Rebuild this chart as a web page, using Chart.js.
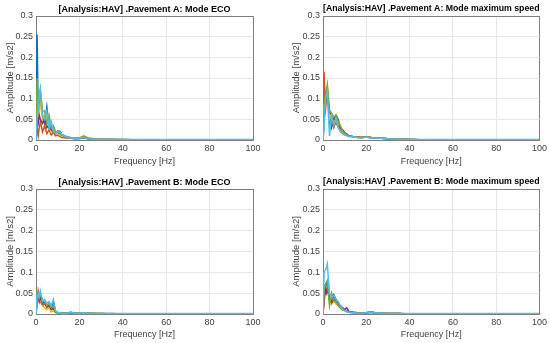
<!DOCTYPE html>
<html>
<head>
<meta charset="utf-8">
<script src="https://cdn.jsdelivr.net/npm/chart.js@4.4.0/dist/chart.umd.min.js"></script>
<style>
  body { margin: 0; background: #fff; }
  #wrap { position: relative; width: 550px; height: 343px; }
  #wrap canvas { position: absolute; }
</style>
</head>
<body>
<div id="wrap">
  <canvas id="c1" width="275" height="172" style="left:0;top:0"></canvas>
  <canvas id="c2" width="275" height="172" style="left:275px;top:0"></canvas>
  <canvas id="c3" width="275" height="171" style="left:0;top:172px"></canvas>
  <canvas id="c4" width="275" height="171" style="left:275px;top:172px"></canvas>
</div>
<script>
// frequency axis shared by every trace (Hz)
var freqHz = [0, 0.5, 1, 1.5, 2, 3, 4, 5, 6, 7, 8, 9, 10, 11, 12, 14, 16, 18, 20, 22, 24, 27, 30, 35, 40, 50, 100];

var yTicks = [0, 0.05, 0.1, 0.15, 0.2, 0.25, 0.3];
var xTicks = [0, 20, 40, 60, 80, 100];

// MATLAB default line colours
var lineColors = ["#0072BD", "#D95319", "#EDB120", "#7E2F8E", "#77AC30", "#4DBEEE"];

// Pavement A, mode ECO
var ampAEco = [
	[0.01, 0.255, 0.06, 0.09, 0.11, 0.06, 0.04, 0.08, 0.03, 0.04, 0.02, 0.015, 0.02, 0.02, 0.012, 0.008, 0.005, 0.003, 0.004, 0.006, 0.004, 0.002, 0.002, 0.001, 0.001, 0, 0],
	[0, 0.03, 0.01, 0.03, 0.045, 0.02, 0.035, 0.015, 0.025, 0.012, 0.018, 0.01, 0.012, 0.008, 0.006, 0.005, 0.004, 0.003, 0.003, 0.005, 0.003, 0.002, 0.001, 0.001, 0, 0, 0],
	[0, 0.1, 0.05, 0.08, 0.09, 0.05, 0.06, 0.03, 0.045, 0.02, 0.03, 0.015, 0.018, 0.012, 0.01, 0.007, 0.005, 0.004, 0.004, 0.008, 0.004, 0.002, 0.002, 0.001, 0.001, 0, 0],
	[0, 0.05, 0.04, 0.06, 0.05, 0.04, 0.05, 0.03, 0.035, 0.025, 0.02, 0.015, 0.022, 0.02, 0.012, 0.008, 0.005, 0.004, 0.004, 0.006, 0.003, 0.002, 0.001, 0.001, 0, 0, 0],
	[0, 0.15, 0.07, 0.1, 0.12, 0.07, 0.07, 0.04, 0.06, 0.03, 0.035, 0.02, 0.02, 0.015, 0.012, 0.008, 0.006, 0.005, 0.005, 0.01, 0.005, 0.003, 0.002, 0.001, 0.001, 0, 0],
	[0, 0.05, 0.08, 0.11, 0.125, 0.06, 0.05, 0.07, 0.03, 0.045, 0.02, 0.015, 0.02, 0.022, 0.012, 0.008, 0.005, 0.004, 0.004, 0.006, 0.003, 0.002, 0.002, 0.001, 0.001, 0.001, 0.001]
];

// Pavement A, mode maximum speed
var ampAMax = [
	[0, 0.05, 0.1, 0.12, 0.11, 0.06, 0.03, 0.05, 0.04, 0.035, 0.025, 0.02, 0.015, 0.012, 0.01, 0.008, 0.006, 0.006, 0.007, 0.006, 0.005, 0.004, 0.003, 0.002, 0.001, 0, 0],
	[0, 0.165, 0.06, 0.1, 0.12, 0.04, 0.05, 0.03, 0.045, 0.03, 0.025, 0.018, 0.014, 0.012, 0.01, 0.008, 0.007, 0.006, 0.008, 0.006, 0.005, 0.004, 0.003, 0.002, 0.001, 0, 0],
	[0, 0.08, 0.1, 0.11, 0.13, 0.05, 0.06, 0.045, 0.05, 0.04, 0.03, 0.02, 0.015, 0.013, 0.01, 0.008, 0.006, 0.006, 0.007, 0.006, 0.005, 0.004, 0.003, 0.002, 0.001, 0, 0],
	[0, 0.06, 0.08, 0.1, 0.12, 0.07, 0.06, 0.05, 0.06, 0.05, 0.03, 0.025, 0.018, 0.014, 0.01, 0.008, 0.007, 0.006, 0.008, 0.006, 0.005, 0.004, 0.003, 0.002, 0.001, 0, 0],
	[0, 0.07, 0.1, 0.12, 0.135, 0.07, 0.065, 0.055, 0.06, 0.045, 0.035, 0.022, 0.016, 0.013, 0.01, 0.008, 0.007, 0.006, 0.008, 0.006, 0.005, 0.004, 0.003, 0.002, 0.001, 0, 0],
	[0, 0.03, 0.08, 0.11, 0.12, 0.01, 0.06, 0.035, 0.05, 0.03, 0.02, 0.015, 0.012, 0.01, 0.008, 0.008, 0.006, 0.005, 0.007, 0.005, 0.005, 0.004, 0.003, 0.002, 0.001, 0.001, 0.001]
];

// Pavement B, mode ECO
var ampBEco = [
	[0, 0.04, 0.05, 0.045, 0.05, 0.03, 0.03, 0.02, 0.025, 0.015, 0.03, 0.005, 0.003, 0.002, 0.002, 0.002, 0.004, 0.002, 0.002, 0.002, 0.002, 0.001, 0.001, 0.001, 0, 0, 0],
	[0, 0.03, 0.055, 0.04, 0.03, 0.02, 0.025, 0.015, 0.02, 0.01, 0.012, 0.004, 0.003, 0.002, 0.002, 0.002, 0.003, 0.002, 0.001, 0.002, 0.001, 0.001, 0.001, 0, 0, 0, 0],
	[0, 0.02, 0.04, 0.03, 0.035, 0.02, 0.015, 0.01, 0.015, 0.005, 0.008, 0.003, 0.002, 0.002, 0.001, 0.001, 0.002, 0.001, 0.001, 0.001, 0.001, 0.001, 0, 0, 0, 0, 0],
	[0, 0.035, 0.045, 0.03, 0.04, 0.025, 0.03, 0.02, 0.02, 0.012, 0.015, 0.005, 0.003, 0.002, 0.002, 0.002, 0.003, 0.002, 0.001, 0.002, 0.001, 0.001, 0, 0, 0, 0, 0],
	[0, 0.05, 0.04, 0.045, 0.05, 0.03, 0.03, 0.02, 0.025, 0.015, 0.02, 0.005, 0.003, 0.002, 0.002, 0.002, 0.003, 0.002, 0.001, 0.002, 0.001, 0.001, 0.001, 0, 0, 0, 0],
	[0, 0.045, 0.05, 0.04, 0.055, 0.03, 0.035, 0.025, 0.03, 0.02, 0.035, 0.008, 0.004, 0.003, 0.002, 0.002, 0.005, 0.002, 0.002, 0.003, 0.002, 0.001, 0.001, 0.001, 0.001, 0.001, 0.001]
];

// Pavement B, mode maximum speed
var ampBMax = [
	[0, 0.04, 0.06, 0.07, 0.075, 0.04, 0.03, 0.045, 0.03, 0.025, 0.02, 0.015, 0.01, 0.008, 0.006, 0.004, 0.003, 0.002, 0.003, 0.004, 0.003, 0.002, 0.001, 0.001, 0, 0, 0],
	[0, 0.03, 0.05, 0.06, 0.065, 0.04, 0.025, 0.035, 0.025, 0.02, 0.015, 0.01, 0.008, 0.006, 0.004, 0.003, 0.002, 0.002, 0.003, 0.004, 0.003, 0.002, 0.001, 0.001, 0, 0, 0],
	[0, 0.05, 0.07, 0.075, 0.08, 0.03, 0.04, 0.03, 0.025, 0.02, 0.015, 0.01, 0.008, 0.006, 0.004, 0.003, 0.002, 0.002, 0.003, 0.004, 0.003, 0.002, 0.001, 0.001, 0, 0, 0],
	[0, 0.04, 0.06, 0.05, 0.06, 0.035, 0.03, 0.045, 0.035, 0.025, 0.02, 0.015, 0.01, 0.015, 0.006, 0.004, 0.003, 0.002, 0.003, 0.005, 0.003, 0.002, 0.001, 0.001, 0, 0, 0],
	[0, 0.06, 0.07, 0.075, 0.08, 0.02, 0.05, 0.03, 0.03, 0.02, 0.015, 0.01, 0.008, 0.006, 0.004, 0.003, 0.002, 0.002, 0.003, 0.004, 0.003, 0.002, 0.001, 0.001, 0, 0, 0],
	[0, 0.1, 0.105, 0.11, 0.12, 0.05, 0.04, 0.045, 0.035, 0.03, 0.02, 0.012, 0.008, 0.006, 0.004, 0.003, 0.002, 0.002, 0.003, 0.004, 0.003, 0.002, 0.001, 0.001, 0.001, 0.001, 0.001]
];

var FONT = "'Liberation Sans', Arial, Helvetica, sans-serif";

function makePlot(id, title, series, lay) {
	// later traces sit on top, as in MATLAB
	var datasets = series.map(function (vals, i) {
		return {
			data: freqHz.map(function (f, k) { return { x: f, y: vals[k] }; }),
			borderColor: lineColors[i],
			borderWidth: 1.5,
			pointRadius: 0,
			fill: false,
			tension: 0,
			order: -i
		};
	});
	var edgeGrid = function (max) {
		return function (ctx) {
			return ctx.tick && Math.abs(ctx.tick.value - max) < 1e-9 ? "#7f7f7f" : "#e6e6e6";
		};
	};
	return new Chart(document.getElementById(id), {
		type: "line",
		data: { datasets: datasets },
		options: {
			responsive: false,
			animation: false,
			layout: { padding: { top: 0, right: lay.right, bottom: 0, left: 0 } },
			plugins: {
				legend: { display: false },
				tooltip: { enabled: false },
				title: {
					display: true,
					text: title,
					fullSize: false,
					color: "#000",
					font: { family: FONT, size: 9, weight: "bold" },
					padding: { top: lay.titleTop, bottom: lay.titleBottom }
				}
			},
			scales: {
				x: {
					type: "linear",
					min: 0,
					max: 100,
					afterBuildTicks: function (s) { s.ticks = xTicks.map(function (v) { return { value: v }; }); },
					afterFit: function (s) { s.height = lay.xh; },
					ticks: { color: "#404040", padding: 3, font: { family: FONT, size: 9 }, maxRotation: 0 },
					grid: { color: edgeGrid(100), drawTicks: false, lineWidth: 1 },
					border: { color: "#7f7f7f" },
					title: {
						display: true,
						text: "Frequency [Hz]",
						color: "#404040",
						font: { family: FONT, size: 9 },
						padding: { top: 0, bottom: lay.xtPad }
					}
				},
				y: {
					min: 0,
					max: 0.3,
					afterBuildTicks: function (s) { s.ticks = yTicks.map(function (v) { return { value: v }; }); },
					afterFit: function (s) { s.width = lay.yw; },
					ticks: {
						color: "#404040",
						padding: 3,
						font: { family: FONT, size: 9 },
						callback: function (v) { return String(+v.toFixed(2)); }
					},
					grid: { color: edgeGrid(0.3), drawTicks: false, lineWidth: 1 },
					border: { color: "#7f7f7f" },
					title: {
						display: true,
						text: "Amplitude [m/s2]",
						color: "#404040",
						font: { family: FONT, size: 9.5 },
						padding: { top: lay.ytPad, bottom: 0 }
					}
				}
			}
		}
	});
}

makePlot("c1", "[Analysis:HAV] .Pavement A: Mode ECO", ampAEco,
	{ right: 22, yw: 36, xh: 32, titleTop: 4, titleBottom: 1.2, xtPad: 5.5, ytPad: 4.3 });
makePlot("c2", "[Analysis:HAV] .Pavement A: Mode maximum speed", ampAMax,
	{ right: 10, yw: 48, xh: 32, titleTop: 3, titleBottom: 2.2, xtPad: 5.5, ytPad: 16 });
makePlot("c3", "[Analysis:HAV] .Pavement B: Mode ECO", ampBEco,
	{ right: 22, yw: 36, xh: 29, titleTop: 5, titleBottom: 1.2, xtPad: 3.3, ytPad: 4.3 });
makePlot("c4", "[Analysis:HAV] .Pavement B: Mode maximum speed", ampBMax,
	{ right: 10, yw: 48, xh: 29, titleTop: 4, titleBottom: 2.2, xtPad: 3.3, ytPad: 15.5 });
</script>
</body>
</html>
